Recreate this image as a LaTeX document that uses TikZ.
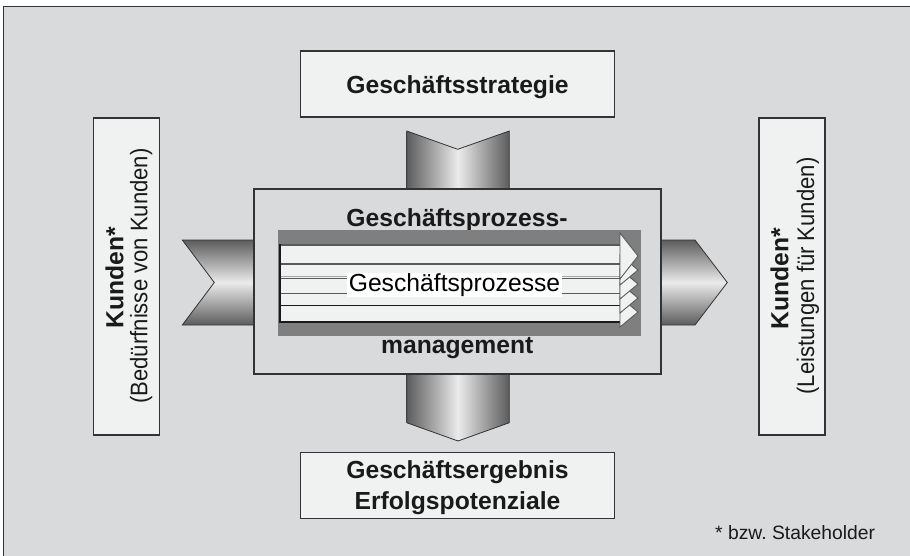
\documentclass[tikz,border=0pt]{standalone}
\usepackage{fontspec}
\setmainfont{Liberation Sans}
\definecolor{bg}{HTML}{D9DADC}
\definecolor{boxfill}{HTML}{F0F1F1}
\definecolor{darkrect}{HTML}{7F7F7F}
\definecolor{txt}{HTML}{1A1A1A}
\definecolor{edge}{HTML}{333333}
\definecolor{adark}{HTML}{5C5C5C}
\definecolor{alight}{HTML}{EBEBEB}
\definecolor{stripe}{HTML}{5A5A5A}
\begin{document}
\begin{tikzpicture}[x=1pt,y=-1pt,
  box/.style={draw=edge, line width=1.2pt, fill=boxfill, inner sep=0pt},
  boldtxt/.style={font=\fontsize{24.7}{31}\selectfont\bfseries, text=txt, inner sep=0pt, anchor=base},
  regtxt/.style={font=\fontsize{24}{28}\selectfont, text=txt, inner sep=0pt, anchor=base},
  vshade/.style={draw=edge, line width=0.8pt, left color=adark, right color=adark, middle color=alight},
  hshade/.style={draw=edge, line width=0.8pt, top color=adark, bottom color=adark, middle color=alight},
  chev/.style={fill=boxfill, draw=stripe, line width=0.9pt, line join=miter}
]
\useasboundingbox (0,0) rectangle (910,555);
% background frame
\fill[bg] (3.5,6.5) rectangle (915,560);
\draw[edge, line width=1.4pt] (3.5,560) -- (3.5,6.5) -- (915,6.5);

% block arrows
\path[hshade] (182.3,240) -- (254,240) -- (254,325) -- (182.3,325) -- (214.3,282.5) -- cycle;
\path[hshade] (661,240) -- (695,240) -- (727.3,282.5) -- (695,325) -- (661,325) -- cycle;
\path[vshade] (406.7,131) -- (457.7,149.3) -- (509.3,131) -- (509.3,189) -- (406.7,189) -- cycle;
\path[vshade] (406.7,374) -- (509.3,374) -- (509.3,422.7) -- (458,441) -- (406.7,422.7) -- cycle;

% central box
\node[draw=edge, line width=1.2pt, fill=bg, minimum width=407pt, minimum height=185pt, inner sep=0pt] (gpm) at (457.5,281.5) {};
\node[boldtxt] (gpmtop) at (457,226.7) {Geschäftsprozess-};
\node[boldtxt] (gpmbot) at (457.3,353.3) {management};

% process arrows
\node[fill=darkrect, minimum width=363pt, minimum height=106pt, inner sep=0pt] (proc) at (459.5,283) {};
\fill[boxfill] (280,245) rectangle (621,322);
\draw[stripe, line width=1.6pt] (280,245) -- (621,245);
\draw[stripe, line width=1.1pt] (280,264) -- (621,264);
\draw[black!35, line width=1.2pt] (280,276.8) -- (621,276.8);
\draw[stripe, line width=1.1pt] (280,278.5) -- (621,278.5);
\draw[stripe, line width=1.1pt] (280,293.3) -- (621,293.3);
\draw[black!90, line width=1.8pt] (280,305.5) -- (621,305.5);
\draw[black!90, line width=2.4pt] (279,322) -- (621,322);
\draw[black!90, line width=2pt] (280,244) -- (280,323);
\foreach \t in {312,298,284,270} {
  \path[chev] (620,\t-15) -- (638,\t) -- (620,\t+15) -- cycle;
}
\path[chev] (620,233) -- (638,256) -- (620,279) -- cycle;
\node[fill=white, inner sep=0pt, minimum width=215pt, minimum height=24pt,
  font=\fontsize{24.7}{30}\selectfont, text=black, text height=18pt, text depth=6pt] (gp) at (454.5,285) {Geschäftsprozesse};

% top and bottom boxes
\node[box, minimum width=314pt, minimum height=66pt, font=\fontsize{24.7}{31}\selectfont\bfseries,
  text=txt, text height=18.6pt, text depth=0pt] (strat) at (457.5,84) {Geschäftsstrategie};
\node[box, minimum width=314pt, minimum height=66pt] (result) at (457.5,485.3) {};
\node[boldtxt] (res1) at (457.5,478.3) {Geschäftsergebnis};
\node[boldtxt] (res2) at (457.5,509.3) {Erfolgspotenziale};

% customer boxes
\node[box, minimum width=66pt, minimum height=317pt] (kin) at (126.5,276.5) {};
\node[boldtxt, rotate=90] (kin1) at (123.3,277.5) {Kunden*};
\node[regtxt, rotate=90] (kin2) at (147.3,276) {\scalebox{0.92}[1]{(Bedürfnisse von Kunden)}};
\node[box, minimum width=66pt, minimum height=317pt] (kout) at (792,276.5) {};
\node[boldtxt, rotate=90] (kout1) at (788.3,279) {Kunden*};
\node[regtxt, rotate=90] (kout2) at (814,276) {\scalebox{0.92}[1]{(Leistungen für Kunden)}};

% footnote
\node[anchor=base west, inner sep=0pt, font=\fontsize{19.3}{22}\selectfont, text=txt] (fn) at (715,539.5) {* bzw.\ Stakeholder};
\end{tikzpicture}
\end{document}
